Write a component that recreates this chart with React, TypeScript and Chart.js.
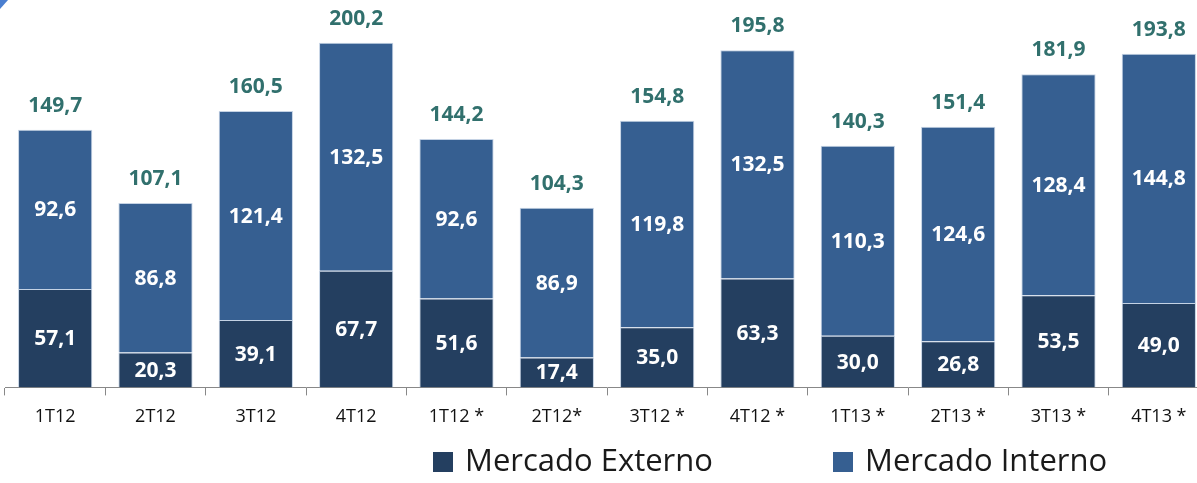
import React, { useEffect, useRef } from "react";
import { Chart, registerables } from "chart.js";

Chart.register(...registerables);

const categories = ["1T12", "2T12", "3T12", "4T12", "1T12 *", "2T12*", "3T12 *", "4T12 *", "1T13 *", "2T13 *", "3T13 *", "4T13 *"];
const mercadoExterno = [57.1, 20.3, 39.1, 67.7, 51.6, 17.4, 35.0, 63.3, 30.0, 26.8, 53.5, 49.0];
const mercadoInterno = [92.6, 86.8, 121.4, 132.5, 92.6, 86.9, 119.8, 132.5, 110.3, 124.6, 128.4, 144.8];
const totals = [149.7, 107.1, 160.5, 200.2, 144.2, 104.3, 154.8, 195.8, 140.3, 151.4, 181.9, 193.8];
const seriesNames = ["Mercado Externo", "Mercado Interno"];
const seriesColors = ["#243F60", "#365F91"];

const fmt = (v: number) => v.toFixed(1).replace(".", ",");

const FONT = "'Open Sans', 'DejaVu Sans', sans-serif";

const labelsPlugin = {
  id: "valueLabels",
  afterDatasetsDraw(chart: any) {
    const ctx = chart.ctx;
    ctx.save();
    ctx.textAlign = "center";
    ctx.textBaseline = "middle";
    ctx.font = `bold 21px ${FONT}`;
    ctx.fillStyle = "#FFFFFF";
    chart.data.datasets.forEach((ds: any, di: number) => {
      const meta = chart.getDatasetMeta(di);
      meta.data.forEach((el: any, i: number) => {
        const p = el.getProps(["x", "y", "base"], true);
        ctx.fillText(fmt(ds.data[i]), p.x, (p.y + p.base) / 2 + 1);
      });
    });
    const topMeta = chart.getDatasetMeta(chart.data.datasets.length - 1);
    ctx.fillStyle = "#31706D";
    topMeta.data.forEach((el: any, i: number) => {
      const p = el.getProps(["x", "y"], true);
      ctx.fillText(fmt(totals[i]), p.x, p.y - 24);
    });
    ctx.restore();
  },
  afterDraw(chart: any) {
    const ctx = chart.ctx;
    ctx.save();
    // corner decoration
    ctx.fillStyle = "#4A7FD0";
    ctx.beginPath();
    ctx.moveTo(0, 0);
    ctx.lineTo(8, 0);
    ctx.lineTo(0, 9);
    ctx.closePath();
    ctx.fill();
    // legend
    const items = [
      { x: 433, textX: 465 },
      { x: 833, textX: 865 },
    ];
    ctx.textAlign = "left";
    ctx.textBaseline = "alphabetic";
    ctx.font = `31px ${FONT}`;
    items.forEach((it, i) => {
      ctx.fillStyle = seriesColors[i];
      ctx.fillRect(it.x, 452, 20, 20);
      ctx.fillStyle = "#1A1A1A";
      ctx.fillText(seriesNames[i], it.textX, 471);
    });
    ctx.restore();
  },
};

export default function App() {
  const ref = useRef<HTMLCanvasElement>(null);
  useEffect(() => {
    if (!ref.current) return;
    const chart = new Chart(ref.current, {
      type: "bar",
      data: {
        labels: categories,
        datasets: [
          {
            label: seriesNames[0],
            data: mercadoExterno,
            backgroundColor: seriesColors[0],
            borderColor: "rgba(190,205,225,0.9)",
            borderWidth: 1,
            barPercentage: 0.74,
            categoryPercentage: 1,
          },
          {
            label: seriesNames[1],
            data: mercadoInterno,
            backgroundColor: seriesColors[1],
            borderColor: "rgba(190,205,225,0.9)",
            borderWidth: 1,
            barPercentage: 0.74,
            categoryPercentage: 1,
          },
        ],
      },
      options: {
        responsive: false,
        animation: false,
        devicePixelRatio: 1,
        layout: { padding: { left: 5, right: 0, top: 0, bottom: 44 } },
        plugins: { legend: { display: false }, tooltip: { enabled: false } },
        scales: {
          x: {
            stacked: true,
            grid: {
              display: true,
              drawOnChartArea: false,
              drawTicks: true,
              tickLength: 8,
              color: "#888888",
              offset: true,
            },
            border: { display: true, color: "#888888", width: 1 },
            ticks: {
              color: "#111111",
              font: { family: FONT, size: 18 },
              padding: 11,
              maxRotation: 0,
              autoSkip: false,
            },
          },
          y: {
            stacked: true,
            display: false,
            min: 0,
            max: 225,
          },
        },
      },
      plugins: [labelsPlugin],
    });
    return () => chart.destroy();
  }, []);
  return (
    <div style={{ position: "fixed", left: 0, top: 0, width: 1197, height: 483, overflow: "hidden", background: "#fff" }}>
      <canvas ref={ref} width={1209} height={483} style={{ display: "block" }} />
    </div>
  );
}
